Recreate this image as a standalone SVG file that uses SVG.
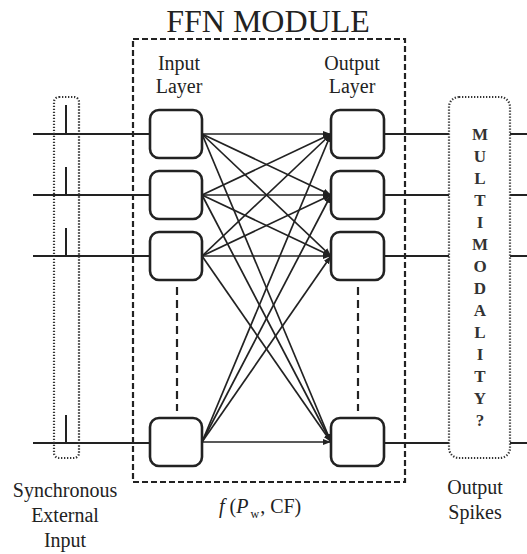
<svg xmlns="http://www.w3.org/2000/svg" width="527" height="554" viewBox="0 0 527 554">
  <style>
    .txt { font-family: "Liberation Serif", "Times New Roman", serif; fill: #222; }
    .lbl { font-size: 20px; text-anchor: middle; }
    .cell { fill: #fff; stroke: #222; stroke-width: 2.6; }
    .wire { stroke: #222; stroke-width: 2; fill: none; }
    .link { stroke: #222; stroke-width: 1.7; fill: none; marker-end: url(#tip); }
    .dotbox { fill: none; stroke: #333; stroke-width: 2.2; stroke-dasharray: 1.3 1.7; }
    .dash { stroke: #222; stroke-width: 2.2; fill: none; stroke-dasharray: 8 5; }
    .ml { font-size: 17px; font-weight: bold; text-anchor: middle; fill: #333; }
  </style>
  <defs>
    <marker id="tip" markerWidth="9" markerHeight="7" refX="8" refY="3.5" orient="auto" markerUnits="userSpaceOnUse">
      <path d="M0,0.5 L8,3.5 L0,6.5 z" fill="#222"/>
    </marker>
  </defs>

  <rect width="527" height="554" fill="#fff"/>

  <!-- title -->
  <text class="txt" x="268" y="32" font-size="32" text-anchor="middle">FFN MODULE</text>

  <!-- module boundary -->
  <g id="ffn-module">
    <rect x="133" y="39" width="272" height="443" fill="none" stroke="#222" stroke-width="2.2" stroke-dasharray="6 3"/>
    <text class="txt lbl" x="179" y="70">Input</text>
    <text class="txt lbl" x="179" y="93">Layer</text>
    <text class="txt lbl" x="352" y="70">Output</text>
    <text class="txt lbl" x="352" y="93">Layer</text>
    <text class="txt" x="219" y="513" font-size="20"><tspan font-style="italic">f</tspan> (<tspan font-style="italic">P</tspan><tspan font-size="12" dx="2" dy="5">w</tspan><tspan dx="1" dy="-5">, CF)</tspan></text>
  </g>

  <!-- synchronous external input -->
  <g id="external-input">
    <line class="wire" x1="33" y1="134" x2="150" y2="134"/>
    <line class="wire" x1="33" y1="195" x2="150" y2="195"/>
    <line class="wire" x1="33" y1="256" x2="150" y2="256"/>
    <line class="wire" x1="33" y1="443" x2="150" y2="443"/>
    <line class="wire" x1="66" y1="105" x2="66" y2="134"/>
    <line class="wire" x1="66" y1="167" x2="66" y2="195"/>
    <line class="wire" x1="66" y1="228" x2="66" y2="256"/>
    <line class="wire" x1="66" y1="415" x2="66" y2="443"/>
    <rect class="dotbox" x="54" y="97" width="25" height="361" rx="5"/>
    <text class="txt lbl" x="65" y="497">Synchronous</text>
    <text class="txt lbl" x="65" y="522">External</text>
    <text class="txt lbl" x="65" y="547">Input</text>
  </g>

  <!-- output spikes / multimodality -->
  <g id="output-spikes">
    <line class="wire" x1="384" y1="134" x2="449" y2="134"/>
    <line class="wire" x1="384" y1="195" x2="449" y2="195"/>
    <line class="wire" x1="384" y1="256" x2="449" y2="256"/>
    <line class="wire" x1="384" y1="443" x2="449" y2="443"/>
    <line class="wire" x1="510" y1="134" x2="527" y2="134"/>
    <line class="wire" x1="510" y1="195" x2="527" y2="195"/>
    <line class="wire" x1="510" y1="256" x2="527" y2="256"/>
    <line class="wire" x1="510" y1="443" x2="527" y2="443"/>
    <rect class="dotbox" x="449" y="97" width="61" height="361" rx="10" fill="#fff"/>
    <g class="txt ml">
      <text x="480" y="140">M</text>
      <text x="480" y="162">U</text>
      <text x="480" y="184">L</text>
      <text x="480" y="206">T</text>
      <text x="480" y="228">I</text>
      <text x="480" y="250">M</text>
      <text x="480" y="272">O</text>
      <text x="480" y="294">D</text>
      <text x="480" y="316">A</text>
      <text x="480" y="338">L</text>
      <text x="480" y="360">I</text>
      <text x="480" y="382">T</text>
      <text x="480" y="404">Y</text>
      <text x="480" y="426">?</text>
    </g>
    <text class="txt lbl" x="475" y="494">Output</text>
    <text class="txt lbl" x="475" y="519">Spikes</text>
  </g>

  <!-- all-to-all weights, input layer to output layer -->
  <g id="connectors">
    <line class="link" x1="202" y1="134" x2="331" y2="134"/>
    <line class="link" x1="202" y1="134" x2="331" y2="195"/>
    <line class="link" x1="202" y1="134" x2="331" y2="256"/>
    <line class="link" x1="202" y1="134" x2="331" y2="442"/>
    <line class="link" x1="202" y1="195" x2="331" y2="134"/>
    <line class="link" x1="202" y1="195" x2="331" y2="195"/>
    <line class="link" x1="202" y1="195" x2="331" y2="256"/>
    <line class="link" x1="202" y1="195" x2="331" y2="442"/>
    <line class="link" x1="202" y1="256" x2="331" y2="134"/>
    <line class="link" x1="202" y1="256" x2="331" y2="195"/>
    <line class="link" x1="202" y1="256" x2="331" y2="256"/>
    <line class="link" x1="202" y1="256" x2="331" y2="442"/>
    <line class="link" x1="202" y1="442" x2="331" y2="134"/>
    <line class="link" x1="202" y1="442" x2="331" y2="195"/>
    <line class="link" x1="202" y1="442" x2="331" y2="256"/>
    <line class="link" x1="202" y1="442" x2="331" y2="442"/>
    <line class="dash" x1="177" y1="287" x2="177" y2="411"/>
    <line class="dash" x1="358" y1="287" x2="358" y2="411"/>
  </g>

  <!-- input layer neurons -->
  <g id="in1"><rect class="cell" x="150" y="110" width="52" height="48" rx="9"/></g>
  <g id="in2"><rect class="cell" x="150" y="171" width="52" height="48" rx="9"/></g>
  <g id="in3"><rect class="cell" x="150" y="232" width="52" height="48" rx="9"/></g>
  <g id="in4"><rect class="cell" x="150" y="418" width="52" height="48" rx="9"/></g>

  <!-- output layer neurons -->
  <g id="out1"><rect class="cell" x="331" y="110" width="53" height="48" rx="9"/></g>
  <g id="out2"><rect class="cell" x="331" y="171" width="53" height="48" rx="9"/></g>
  <g id="out3"><rect class="cell" x="331" y="232" width="53" height="48" rx="9"/></g>
  <g id="out4"><rect class="cell" x="331" y="418" width="53" height="48" rx="9"/></g>
</svg>
